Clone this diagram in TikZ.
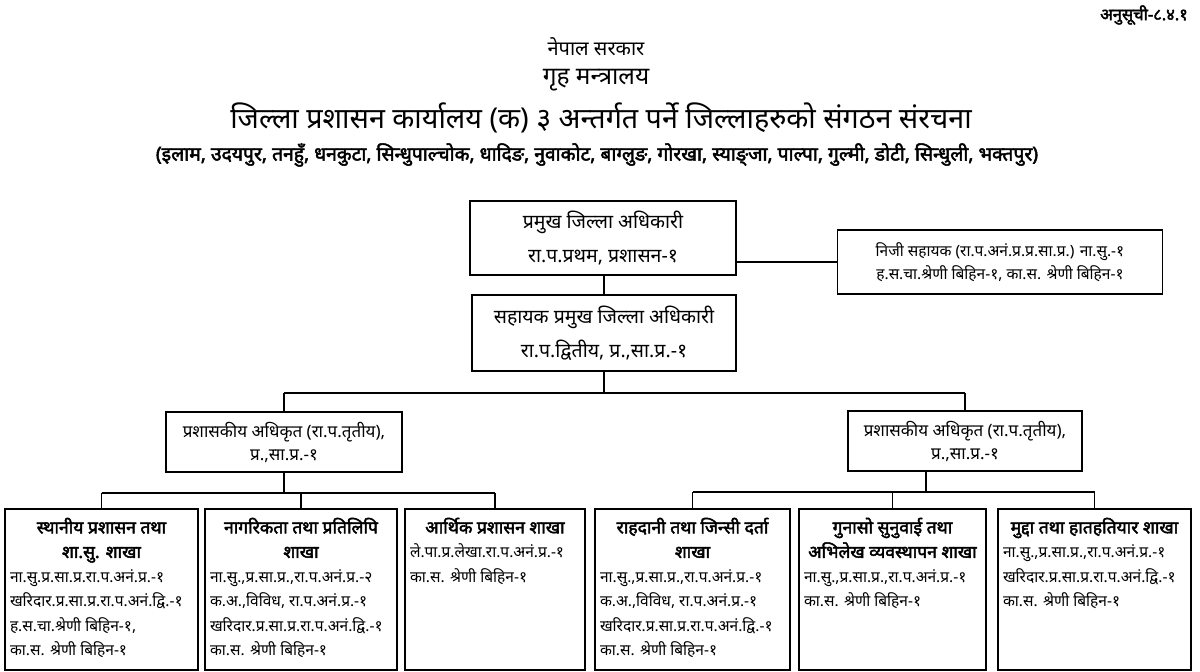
\documentclass[tikz,border=0pt]{standalone}
\usepackage{fontspec}
\newfontfamily\dev[Script=Devanagari]{Noto Sans}
\newfontfamily\devb[Script=Devanagari,FakeBold=2.5]{Noto Sans}
\usetikzlibrary{positioning}

\tikzset{
  box/.style={draw, line width=1.5pt, align=center, inner sep=0pt},
  branch/.style={draw, line width=1.5pt, inner xsep=5pt, inner ysep=9pt, anchor=north},
  link/.style={line width=1.5pt},
  head/.style={inner sep=0pt}
}
\newcommand{\branchtext}[3]{\parbox[t][#1pt][t]{#2pt}{\raggedright #3}}
\newcommand{\btitle}[1]{{\centering\devb\fontsize{17.5}{24.5}\selectfont #1\par}}

\begin{document}
\begin{tikzpicture}[x=1pt,y=-1pt,font=\dev]
  \useasboundingbox (0,0) rectangle (1200,672);
  % heading
  \node[head,anchor=east] (annex) at (1188,15) {\devb\fontsize{16.5}{18}\selectfont अनुसूची-८.४.१};
  \node[head] (govt) at (596,47) {\fontsize{20}{22}\selectfont नेपाल सरकार};
  \node[head] (ministry) at (596,80) {\fontsize{24.5}{26}\selectfont गृह मन्त्रालय};
  \node[head] (title) at (601,118) {\fontsize{28.7}{30}\selectfont जिल्ला प्रशासन कार्यालय (क) ३ अन्तर्गत पर्ने जिल्लाहरुको संगठन संरचना};
  \node[head] (districts) at (597,155) {\devb\fontsize{19.3}{21}\selectfont (इलाम, उदयपुर, तनहुँ, धनकुटा, सिन्धुपाल्चोक, धादिङ, नुवाकोट, बाग्लुङ, गोरखा, स्याङ्जा, पाल्पा, गुल्मी, डोटी, सिन्धुली, भक्तपुर)};

  % top of the office
  \node[box,minimum width=266,minimum height=74,font=\dev\fontsize{19.5}{34}\selectfont] (cdo) at (603,238)
    {प्रमुख जिल्ला अधिकारी\\ रा.प.प्रथम, प्रशासन-१};
  \node[box,minimum width=325,minimum height=64,font=\dev\fontsize{15.5}{23}\selectfont] (pa) at (1000,262)
    {निजी सहायक (रा.प.अनं.प्र.प्र.सा.प्र.) ना.सु.-१\\ ह.स.चा.श्रेणी बिहिन-१, का.स. श्रेणी बिहिन-१};
  \node[box,minimum width=264,minimum height=76,font=\dev\fontsize{19.5}{34}\selectfont] (acdo) at (604,333)
    {सहायक प्रमुख जिल्ला अधिकारी\\ रा.प.द्वितीय, प्र.,सा.प्र.-१};

  % officers
  \node[box,minimum width=236,minimum height=60,font=\dev\fontsize{17}{23}\selectfont] (offL) at (284,442)
    {प्रशासकीय अधिकृत (रा.प.तृतीय),\\ प्र.,सा.प्र.-१};
  \node[box,minimum width=234,minimum height=60,font=\dev\fontsize{17}{23}\selectfont] (offR) at (965,441)
    {प्रशासकीय अधिकृत (रा.प.तृतीय),\\ प्र.,सा.प्र.-१};

  % branches
  \begin{scope}[font=\dev\fontsize{15.5}{24.5}\selectfont]
  \node[branch] (b1) at (101.5,508) {\branchtext{143}{183}{%
    \btitle{स्थानीय प्रशासन तथा\\ शा.सु. शाखा}
    ना.सु.प्र.सा.प्र.रा.प.अनं.प्र.-१\\ खरिदार.प्र.सा.प्र.रा.प.अनं.द्वि.-१\\ ह.स.चा.श्रेणी बिहिन-१,\\ का.स. श्रेणी बिहिन-१}};
  \node[branch] (b2) at (301,508) {\branchtext{143}{182}{%
    \btitle{नागरिकता तथा प्रतिलिपि\\ शाखा}
    ना.सु.,प्र.सा.प्र.,रा.प.अनं.प्र.-२\\ क.अ.,विविध, रा.प.अनं.प्र.-१\\ खरिदार.प्र.सा.प्र.रा.प.अनं.द्वि.-१\\ का.स. श्रेणी बिहिन-१}};
  \node[branch] (b3) at (495,508) {\branchtext{143}{170}{%
    \btitle{आर्थिक प्रशासन शाखा}
    ले.पा.प्र.लेखा.रा.प.अनं.प्र.-१\\ का.स. श्रेणी बिहिन-१}};
  \node[branch] (b4) at (692.5,508) {\branchtext{143}{185}{%
    \btitle{राहदानी तथा जिन्सी दर्ता\\ शाखा}
    ना.सु.,प्र.सा.प्र.,रा.प.अनं.प्र.-१\\ क.अ.,विविध, रा.प.अनं.प्र.-१\\ खरिदार.प्र.सा.प्र.रा.प.अनं.द्वि.-१\\ का.स. श्रेणी बिहिन-१}};
  \node[branch] (b5) at (892.5,508) {\branchtext{143}{177}{%
    \btitle{गुनासो सुनुवाई तथा\\ अभिलेख व्यवस्थापन शाखा}
    ना.सु.,प्र.सा.प्र.,रा.प.अनं.प्र.-१\\ का.स. श्रेणी बिहिन-१}};
  \node[branch] (b6) at (1094.5,508) {\branchtext{143}{183}{%
    \btitle{मुद्दा तथा हातहतियार शाखा}
    ना.सु.,प्र.सा.प्र.,रा.प.अनं.प्र.-१\\ खरिदार.प्र.सा.प्र.रा.प.अनं.द्वि.-१\\ का.स. श्रेणी बिहिन-१}};
  \end{scope}

  % connectors
  \draw[link] (pa.west) -- (pa.west -| cdo.east);
  \draw[link] (cdo.south -| acdo.north) -- (acdo.north);
  \draw[link] (acdo.south) -- ++(0,21) coordinate (busTop);
  \draw[link] (busTop -| offL.north) -- (busTop -| offR.north);
  \foreach \n in {offL,offR}
    \draw[link] (busTop -| \n.north) -- (\n.north);
  \draw[link] (offL.south) -- ++(0,20) coordinate (busL);
  \draw[link] (busL -| b1.north) -- (busL -| b3.north);
  \foreach \n in {b1,b2,b3}
    \draw[link] (busL -| \n.north) -- (\n.north);
  \draw[link] ([xshift=-39]offR.south) -- ++(0,20) coordinate (busR);
  \draw[link] (busR -| b4.north) -- (busR -| b6.north);
  \foreach \n in {b4,b5,b6}
    \draw[link] (busR -| \n.north) -- (\n.north);
\end{tikzpicture}
\end{document}
